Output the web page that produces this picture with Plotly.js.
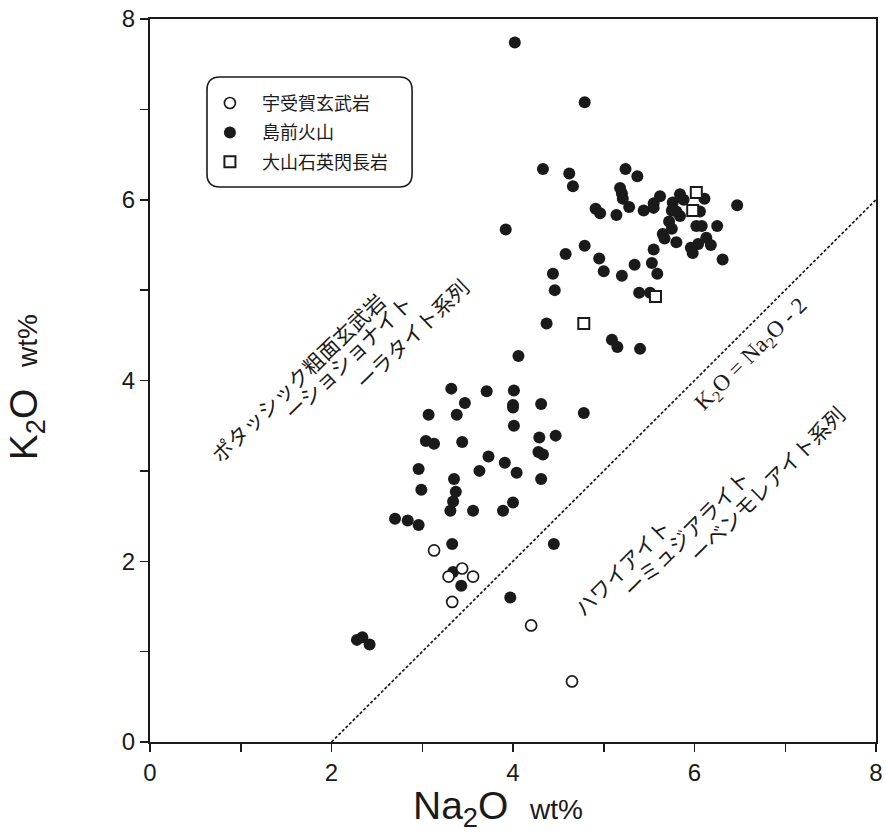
<!DOCTYPE html>
<html><head><meta charset="utf-8">
<script src="https://cdn.plot.ly/plotly-3.0.1.min.js"></script>
<style>body{margin:0;background:#fff}</style>
</head><body><div id="chart" style="width:886px;height:835px"></div>
<script>
// 宇受賀玄武岩 (open circles)
const ukaNa = [3.13, 3.44, 3.29, 3.56, 3.33, 4.20, 4.65];
const ukaK  = [2.12, 1.92, 1.83, 1.83, 1.55, 1.29, 0.67];
// 島前火山 (filled circles)
const shimaNa = [4.02,4.79,4.33,4.62,4.66,5.24,5.37,5.18,5.20,5.21,
  5.28,5.62,5.55,5.55,5.44,4.91,4.96,5.14,5.76,5.84,
  5.88,5.75,5.80,5.84,6.06,6.11,6.47,5.72,5.75,5.65,
  5.67,5.80,6.02,6.08,6.25,6.13,6.18,6.04,5.96,5.98,
  6.31,3.92,4.79,4.58,4.95,5.00,5.20,5.34,5.53,5.55,
  5.59,4.44,4.46,5.39,5.51,4.37,5.09,5.15,5.40,4.06,
  3.32,3.71,4.01,3.47,4.00,4.00,4.31,3.07,3.38,4.78,
  4.01,3.04,3.13,3.44,4.29,4.47,4.28,4.33,3.73,3.91,
  3.63,4.04,2.96,3.35,4.31,2.99,3.37,3.34,3.31,3.56,
  3.89,4.00,2.70,2.84,2.96,3.33,4.45,3.34,3.43,3.97,
  2.28,2.34,2.42];
const shimaK = [7.74,7.08,6.34,6.29,6.15,6.34,6.26,6.13,6.07,6.01,
  5.92,6.04,5.96,5.91,5.88,5.90,5.85,5.83,5.97,6.06,
  6.00,5.88,5.87,5.82,5.87,6.01,5.94,5.76,5.68,5.62,
  5.57,5.53,5.71,5.71,5.71,5.58,5.50,5.51,5.47,5.41,
  5.34,5.67,5.49,5.40,5.35,5.21,5.16,5.28,5.30,5.45,
  5.18,5.18,5.00,4.97,4.97,4.63,4.45,4.37,4.35,4.27,
  3.91,3.88,3.89,3.75,3.73,3.70,3.74,3.62,3.62,3.64,
  3.50,3.33,3.30,3.32,3.37,3.39,3.21,3.18,3.16,3.09,
  3.00,2.98,3.02,2.91,2.91,2.79,2.77,2.66,2.56,2.56,
  2.56,2.65,2.47,2.45,2.40,2.19,2.19,1.88,1.73,1.60,
  1.13,1.16,1.08];
// 大山石英閃長岩 (open squares)
const daisenNa = [6.02, 5.98, 5.57, 4.78];
const daisenK  = [6.08, 5.88, 4.93, 4.63];
// Boundary line K2O = Na2O - 2
const boundaryNa = [2, 8];
const boundaryK  = [0, 6];

const seriesNames = ['宇受賀玄武岩', '島前火山', '大山石英閃長岩'];
const xTickVals = [0, 2, 4, 6, 8];
const yTickVals = [0, 2, 4, 6, 8];

const ink = '#1a1a1a';
const jp = '"Noto Sans CJK JP", "Noto Sans", sans-serif';
const sans = 'Liberation Sans, Arial, sans-serif';

const traces = [
  {x: boundaryNa, y: boundaryK, mode: 'lines', showlegend: false, hoverinfo: 'skip',
   line: {color: ink, width: 1.7, dash: '3px,2px'}},
  {x: shimaNa, y: shimaK, mode: 'markers', name: seriesNames[1], legendrank: 2,
   legendgroup: 'b', marker: {symbol: 'circle', size: 12, color: ink, line: {width: 0}}},
  {x: ukaNa, y: ukaK, mode: 'markers', name: seriesNames[0], legendrank: 1,
   legendgroup: 'a', marker: {symbol: 'circle', size: 11, color: '#fff', line: {color: ink, width: 1.7}}},
  {x: daisenNa, y: daisenK, mode: 'markers', name: seriesNames[2], legendrank: 3,
   legendgroup: 'c', marker: {symbol: 'square', size: 11, color: '#fff', line: {color: ink, width: 2}}}
];

// rounded legend frame (paper coords)
const bx0 = 0.0785, bx1 = 0.361, by0 = 0.7676, by1 = 0.9198, rx = 0.018, ry = 0.018;
const framePath = `M ${bx0+rx} ${by1} L ${bx1-rx} ${by1} Q ${bx1} ${by1} ${bx1} ${by1-ry} L ${bx1} ${by0+ry} Q ${bx1} ${by0} ${bx1-rx} ${by0} L ${bx0+rx} ${by0} Q ${bx0} ${by0} ${bx0} ${by0+ry} L ${bx0} ${by1-ry} Q ${bx0} ${by1} ${bx0+rx} ${by1} Z`;

const axisCommon = {
  range: [0, 8], tickvals: xTickVals, ticks: 'outside', ticklen: 8, tickwidth: 1.5,
  tickcolor: ink, showgrid: false, zeroline: false, showline: true, linecolor: ink,
  linewidth: 2, mirror: true, tickfont: {family: sans, size: 24, color: ink},
  minor: {dtick: 1, ticks: 'outside', ticklen: 8, tickwidth: 1.5, tickcolor: ink, showgrid: false}
};

const layout = {
  width: 886, height: 835,
  margin: {l: 150, r: 10, t: 19, b: 93},
  paper_bgcolor: '#fff', plot_bgcolor: '#fff',
  xaxis: Object.assign({}, axisCommon, {title: {text: ''}}),
  yaxis: Object.assign({}, axisCommon, {tickvals: yTickVals, title: {text: ''}}),
  showlegend: true,
  legend: {x: 0.066, y: 0.909, xanchor: 'left', yanchor: 'top', bgcolor: 'rgba(0,0,0,0)',
           borderwidth: 0, tracegroupgap: 3, traceorder: 'grouped', itemwidth: 54,
           font: {family: jp, size: 18, color: ink}},
  shapes: [{type: 'path', xref: 'paper', yref: 'paper', path: framePath,
            line: {color: ink, width: 1.6}, fillcolor: 'rgba(0,0,0,0)'}],
  annotations: [
    // axis titles
    {xref: 'paper', yref: 'paper', x: 0.48, y: 0, yshift: -66, yanchor: 'middle', showarrow: false,
     text: 'Na<sub>2</sub>O  <span style="font-size:28px">wt%</span>',
     font: {family: sans, size: 39, color: ink}},
    {xref: 'paper', yref: 'paper', x: 0, xshift: -150, y: 0.49, textangle: -90, showarrow: false,
     text: 'K<sub>2</sub>O  <span style="font-size:28px">wt%</span>',
     font: {family: sans, size: 39, color: ink}},
    // region labels
    {x: 1.63, y: 4.04, text: 'ポタッシック粗面玄武岩', textangle: -44, showarrow: false,
     font: {family: jp, size: 21, color: ink}},
    {x: 2.18, y: 4.26, text: 'ーショショナイト', textangle: -44, showarrow: false,
     font: {family: jp, size: 21, color: ink}},
    {x: 2.88, y: 4.52, text: 'ーラタイト系列', textangle: -44, showarrow: false,
     font: {family: jp, size: 21, color: ink}},
    {x: 6.63, y: 4.28, text: 'K<sub>2</sub>O = Na<sub>2</sub>O - 2', textangle: -45, showarrow: false,
     font: {family: 'Liberation Serif, Times New Roman, serif', size: 23, color: ink}},
    {x: 5.20, y: 1.94, text: 'ハワイアイト', textangle: -45, showarrow: false,
     font: {family: jp, size: 21, color: ink}},
    {x: 5.91, y: 2.31, text: 'ーミュジアライト', textangle: -45, showarrow: false,
     font: {family: jp, size: 21, color: ink}},
    {x: 6.79, y: 2.86, text: 'ーベンモレアイト系列', textangle: -45, showarrow: false,
     font: {family: jp, size: 21, color: ink}}
  ]
};

Plotly.newPlot('chart', traces, layout, {displayModeBar: false, staticPlot: true});
</script>
</body></html>
